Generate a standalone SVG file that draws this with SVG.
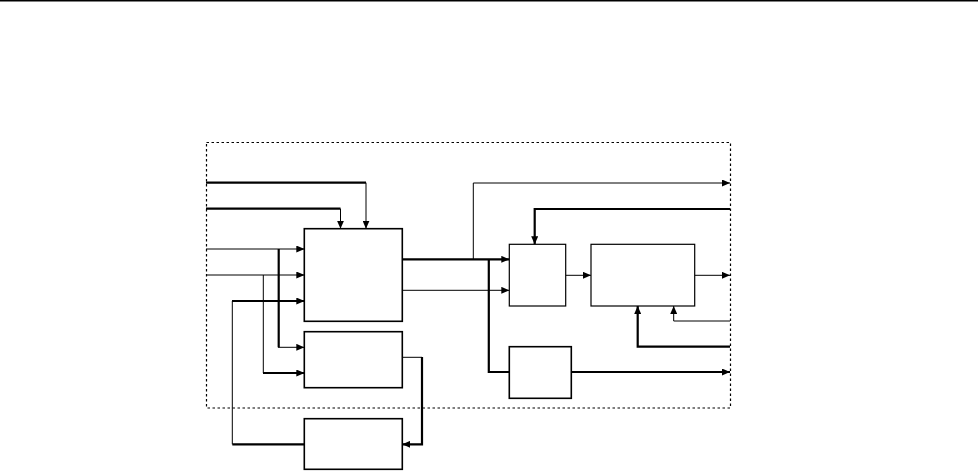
<svg xmlns="http://www.w3.org/2000/svg" width="978" height="471" viewBox="0 0 978 471">
<style>
.box{fill:#fff;stroke:#000;stroke-width:1.6}
.thin{fill:none;stroke:#000;stroke-width:1}
.thick{fill:none;stroke:#000;stroke-width:2.2}
.frame{fill:none;stroke:#000;stroke-width:1.2;stroke-dasharray:2.5,2.5}
</style>
<defs>
<marker id="ah" markerWidth="8" markerHeight="7" refX="8" refY="3.5" orient="auto" markerUnits="userSpaceOnUse">
<path d="M0,0 L8,3.5 L0,7 Z" fill="#000"/>
</marker>
</defs>
<rect x="0" y="0" width="978" height="1.5" fill="#000"/>
<rect class="frame" x="206.5" y="142.5" width="524" height="265.5"/>
<g id="connectors">
<polyline class="thick" points="206,182.7 366,182.7"/>
<polyline class="thin" points="366,182.7 366,228.7" marker-end="url(#ah)"/>
<polyline class="thick" points="206,208.7 340.5,208.7"/>
<polyline class="thin" points="340.5,208.7 340.5,228.7" marker-end="url(#ah)"/>
<polyline class="thin" points="206,249 304.3,249" marker-end="url(#ah)"/>
<polyline class="thin" points="206,275 304.3,275" marker-end="url(#ah)"/>
<polyline class="thick" points="278.7,249 278.7,347.3"/>
<polyline class="thin" points="278,347.3 304.3,347.3" marker-end="url(#ah)"/>
<polyline class="thin" points="263.3,275 263.3,373"/>
<polyline class="thick" points="263,373 304.3,373" marker-end="url(#ah)"/>
<polyline class="thick" points="304.3,444.3 232.3,444.3"/>
<polyline class="thin" points="232.3,444.3 232.3,301"/>
<polyline class="thick" points="232,301 304.3,301" marker-end="url(#ah)"/>
<polyline class="thin" points="402.3,357.3 422,357.3"/>
<polyline class="thick" points="422,357 422,444.3 402.3,444.3" marker-end="url(#ah)"/>
<polyline class="thick" points="402.3,259.3 509.3,259.3" marker-end="url(#ah)"/>
<polyline class="thin" points="402.3,290.3 509.3,290.3" marker-end="url(#ah)"/>
<polyline class="thin" points="473.3,259.3 473.3,183 730,183" marker-end="url(#ah)"/>
<polyline class="thick" points="488.8,259.3 488.8,372 509.3,372"/>
<polyline class="thick" points="571.3,372 730,372" marker-end="url(#ah)"/>
<polyline class="thick" points="730,209 534.7,209 534.7,244.3" marker-end="url(#ah)"/>
<polyline class="thin" points="565.7,275.3 591,275.3" marker-end="url(#ah)"/>
<polyline class="thin" points="694.7,275.3 730,275.3" marker-end="url(#ah)"/>
<polyline class="thick" points="730,346.7 637.7,346.7 637.7,306" marker-end="url(#ah)"/>
<polyline class="thin" points="730,321 673.7,321 673.7,306" marker-end="url(#ah)"/>
</g>
<g id="nodeA"><rect class="box" x="304.3" y="228.7" width="98" height="92.6"/></g>
<g id="nodeB"><rect class="box" x="304.3" y="331.7" width="98" height="56"/></g>
<g id="nodeC"><rect class="box" x="304.3" y="418.7" width="98" height="50.6"/></g>
<g id="nodeD"><rect class="box" x="509.3" y="244.3" width="56.4" height="61.7" style="stroke-width:1.2"/></g>
<g id="nodeE"><rect class="box" x="509.3" y="346.7" width="62" height="51.6"/></g>
<g id="nodeF"><rect class="box" x="591" y="244.3" width="103.7" height="61.7" style="stroke-width:1.2"/></g>
</svg>
